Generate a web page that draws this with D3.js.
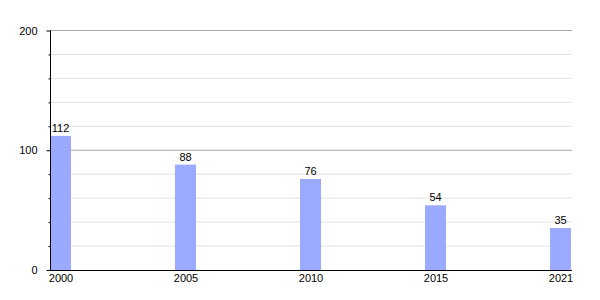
<!DOCTYPE html>
<html>
<head>
<meta charset="utf-8">
<script src="https://cdn.jsdelivr.net/npm/d3@7"></script>
<style>
  body { margin: 0; background: #fff; }
  text { font-family: "Liberation Sans", Arial, sans-serif; font-size: 11px; fill: #000; }
</style>
</head>
<body>
<div id="chart"></div>
<script>
// data
var years = ["2000", "2005", "2010", "2015", "2021"];
var values = [112, 88, 76, 54, 35];
var majorTicks = [0, 100, 200];
var minorTicks = [20, 40, 60, 80, 120, 140, 160, 180];

var svgWidth = 600;
var svgHeight = 300;
var barWidth = 21;
var plotLeft = 50, plotRight = 572;

var svg = d3.select("#chart")
  .append("svg")
  .attr("width", svgWidth)
  .attr("height", svgHeight);

// scales
var xScale = d3.scalePoint()
  .domain(years)
  .range([50, 550]);

var yScale = d3.scaleLinear()
  .domain([0, 200])
  .range([270, 30.5]);

// gridlines
svg.append("g").selectAll("line")
  .data(minorTicks)
  .enter()
  .append("line")
  .attr("x1", plotLeft).attr("x2", plotRight)
  .attr("y1", d => yScale(d)).attr("y2", d => yScale(d))
  .attr("stroke", "#e2e2e2")
  .attr("stroke-width", 1);

svg.append("g").selectAll("line")
  .data(majorTicks.filter(d => d > 0))
  .enter()
  .append("line")
  .attr("x1", plotLeft).attr("x2", plotRight)
  .attr("y1", d => yScale(d)).attr("y2", d => yScale(d))
  .attr("stroke", "#a8a8a8")
  .attr("stroke-width", 1);

// bars
svg.append("g").selectAll("rect")
  .data(values)
  .enter()
  .append("rect")
  .attr("x", (d, i) => xScale(years[i]))
  .attr("y", d => yScale(d))
  .attr("width", barWidth)
  .attr("height", d => yScale(0) - yScale(d))
  .attr("fill", "#99aaff");

// value labels
svg.append("g").selectAll("text")
  .data(values)
  .enter()
  .append("text")
  .attr("x", (d, i) => xScale(years[i]) + barWidth / 2)
  .attr("y", d => yScale(d) - 4)
  .attr("text-anchor", "middle")
  .text(d => d);

// y axis (major with labels, minor ticks)
var leftAxis = d3.axisLeft(yScale)
  .tickValues(majorTicks)
  .tickSize(4)
  .tickPadding(9);

var yAxisG = svg.append("g")
  .attr("transform", "translate(50.5,0)")
  .call(leftAxis);
yAxisG.select(".domain").attr("d", "M0," + yScale(200) + "V" + yScale(0)).attr("stroke", "#000");
yAxisG.selectAll("text").style("font-size", "11px").style("font-family", "Liberation Sans, Arial, sans-serif");

var minorAxis = d3.axisLeft(yScale)
  .tickValues(minorTicks)
  .tickSize(2)
  .tickFormat("");
var minorG = svg.append("g")
  .attr("transform", "translate(50.5,0)")
  .call(minorAxis);
minorG.select(".domain").remove();

// x axis
var bottomAxis = d3.axisBottom(xScale)
  .tickSize(0)
  .tickPadding(4);

var xAxisG = svg.append("g")
  .attr("transform", "translate(" + (barWidth / 2) + "," + (yScale(0) + 0.5) + ")")
  .call(bottomAxis);
xAxisG.select(".domain")
  .attr("d", "M" + (plotLeft - barWidth / 2) + ",0H" + (plotRight - barWidth / 2))
  .attr("stroke", "#000");
xAxisG.selectAll("text").style("font-size", "11px").style("font-family", "Liberation Sans, Arial, sans-serif");
</script>
</body>
</html>
